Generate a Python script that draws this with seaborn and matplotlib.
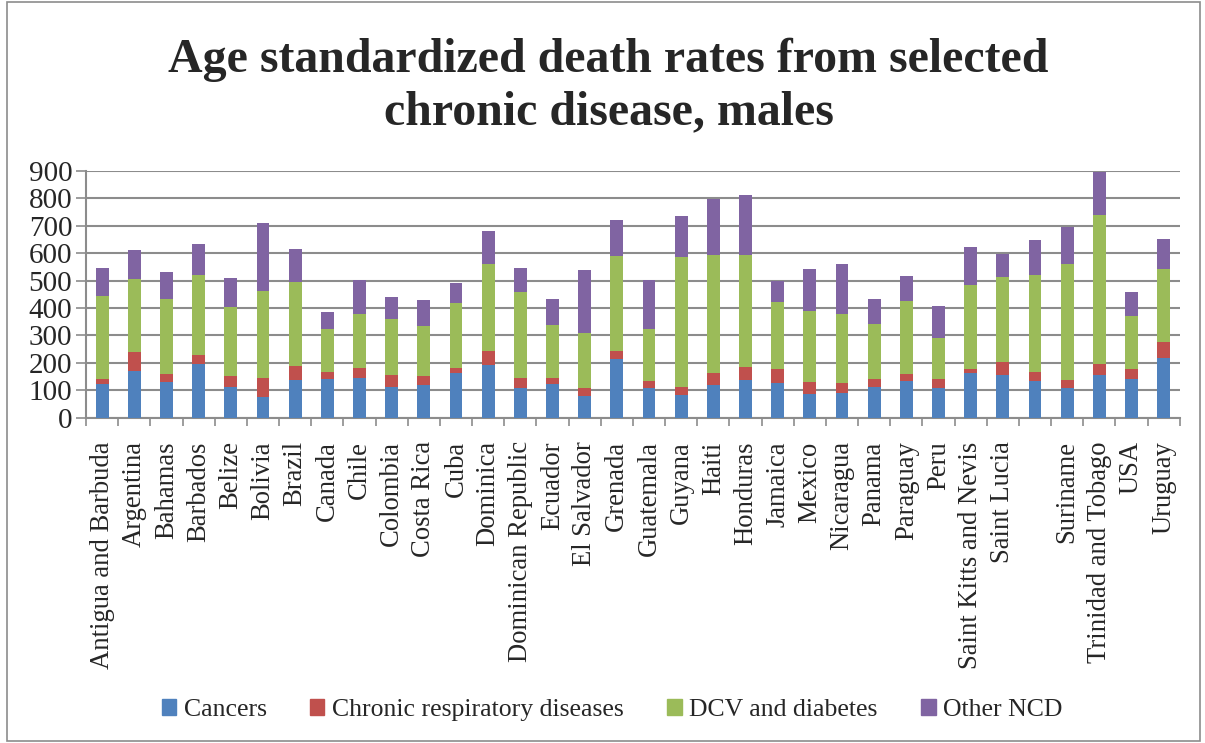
"""Stacked bars: age standardized death rates from selected chronic disease, males."""

import matplotlib
matplotlib.use("Agg")
import matplotlib.pyplot as plt
import numpy as np
import pandas as pd
import seaborn as sns

COUNTRIES = [
    "Antigua and Barbuda", "Argentina", "Bahamas", "Barbados", "Belize", "Bolivia",
    "Brazil", "Canada", "Chile", "Colombia", "Costa Rica", "Cuba", "Dominica",
    "Dominican Republic", "Ecuador", "El Salvador", "Grenada", "Guatemala", "Guyana",
    "Haiti", "Honduras", "Jamaica", "Mexico", "Nicaragua", "Panama", "Paraguay",
    "Peru", "Saint Kitts and Nevis", "Saint Lucia", "", "Suriname",
    "Trinidad and Tobago", "USA", "Uruguay",
]

CANCERS = [123, 169, 131, 194, 111, 77, 136, 142, 143, 112, 119, 162, 191, 109, 122,
           79, 214, 109, 84, 118, 137, 125, 87, 91, 111, 134, 109, 162, 154, 135,
           107, 157, 142, 216]
RESPIRATORY = [19, 72, 27, 34, 42, 69, 54, 26, 39, 44, 34, 20, 53, 36, 24, 28, 29,
               25, 27, 46, 46, 51, 44, 37, 29, 24, 33, 14, 49, 30, 29, 37, 37, 61]
DCV_DIABETES = [301, 263, 275, 293, 249, 317, 303, 154, 197, 205, 181, 237, 315, 312,
                191, 202, 346, 188, 476, 428, 410, 247, 258, 249, 203, 268, 148, 308,
                311, 355, 425, 546, 192, 265]
OTHER_NCD = [101, 108, 97, 111, 106, 248, 121, 64, 122, 78, 96, 72, 123, 87, 97, 230,
             133, 180, 147, 204, 219, 74, 153, 182, 90, 90, 117, 137, 83, 128, 135,
             156, 87, 108]

SERIES = ["Cancers", "Chronic respiratory diseases", "DCV and diabetes", "Other NCD"]
COLORS = ["#4F81BD", "#C0504D", "#9BBB59", "#8064A2"]
Y_TICKS = list(range(0, 1000, 100))

SERIF = ["Liberation Serif", "DejaVu Serif"]
GRID = "#8C8C8C"


def main() -> None:
    sns.set_style("white")
    plt.rcParams["font.family"] = SERIF

    # unique keys so the blank category label still gets its own slot
    keys = [f"c{i}" for i in range(len(COUNTRIES))]
    segs = np.array([CANCERS, RESPIRATORY, DCV_DIABETES, OTHER_NCD], dtype=float)
    tops = segs.cumsum(axis=0)

    fig = plt.figure(figsize=(12.05, 7.43), dpi=100)
    ax = fig.add_axes([0.0714, 0.4378, 0.9076, 0.3324])

    # draw cumulative totals from the top down so the bars read as stacked
    for i in range(len(SERIES) - 1, -1, -1):
        df = pd.DataFrame({"country": keys, "value": tops[i]})
        sns.barplot(data=df, x="country", y="value", color=COLORS[i],
                    width=0.4, saturation=1, linewidth=0, ax=ax, zorder=3)

    ax.set_ylim(0, 900)
    ax.set_xlim(-0.5, len(COUNTRIES) - 0.5)
    ax.set_yticks(Y_TICKS)
    ax.set_yticklabels([str(t) for t in Y_TICKS], fontsize=21)
    ax.set_xticks(range(len(COUNTRIES)))
    ax.set_xticklabels(COUNTRIES, rotation=90, fontsize=19.2, va="top")
    ax.set_xticks(np.arange(-0.5, len(COUNTRIES), 1.0), minor=True)
    ax.tick_params(axis="x", which="major", length=0, pad=17)
    ax.tick_params(axis="x", which="minor", length=6, width=1.2, color=GRID,
                   direction="out", bottom=True)
    ax.tick_params(axis="y", length=7, width=1.2, color=GRID, direction="out",
                   left=True, pad=3)
    ax.set_xlabel("")
    ax.set_ylabel("")
    ax.grid(axis="y", color=GRID, linewidth=1.5, zorder=0)
    ax.set_axisbelow(True)
    for side in ("top", "right"):
        ax.spines[side].set_visible(False)
    for side in ("left", "bottom"):
        ax.spines[side].set_color(GRID)
        ax.spines[side].set_linewidth(1.5)

    fig.text(0.505, 0.884,
             "Age standardized death rates from selected\nchronic disease, males",
             ha="center", va="center", fontsize=34.5, fontweight="bold",
             linespacing=1.23)

    handles = [plt.Rectangle((0, 0), 1, 1, color=c) for c in COLORS]
    fig.legend(handles, SERIES, loc="center", bbox_to_anchor=(0.508, 1 - 710 / 743),
               ncol=4, frameon=False, fontsize=18.5, handlelength=0.55,
               handleheight=0.55, handletextpad=0.3, columnspacing=1.7)

    fig.patches.append(plt.Rectangle((0.006, 0.003), 0.99, 0.994,
                                     transform=fig.transFigure, fill=False,
                                     edgecolor="#8C8C8C", linewidth=1.2))

    fig.savefig("out.png", dpi=100)
    plt.close(fig)


if __name__ == "__main__":
    main()
